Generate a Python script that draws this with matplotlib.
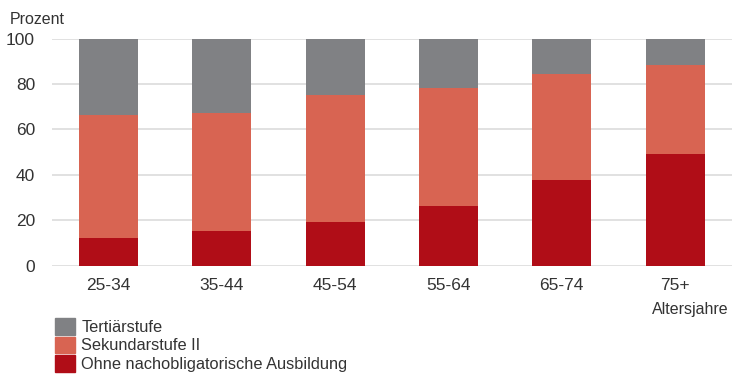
import numpy as np
import matplotlib
matplotlib.use("Agg")
import matplotlib.pyplot as plt
from matplotlib.patches import Patch

# Bildungsstand nach Altersgruppe, in Prozent
altersgruppen = ["25-34", "35-44", "45-54", "55-64", "65-74", "75+"]
ohne_nachobligatorisch = [12.2, 15.1, 19.2, 26.4, 37.6, 49.0]
sekundarstufe_2 = [54.0, 52.1, 55.8, 51.9, 46.9, 39.2]
tertiaerstufe = [33.8, 32.8, 25.0, 21.7, 15.5, 11.8]

col_tert = "#808184"
col_sek = "#d86452"
col_ohne = "#b00d17"
txt_col = "#333333"

plt.rcParams["font.family"] = ["Liberation Sans", "DejaVu Sans"]

fig = plt.figure(figsize=(7.4, 3.75), dpi=100)
ax = fig.add_axes([0.0699, 0.2915, 0.919, 0.6058])

x = np.arange(len(altersgruppen))
w = 0.52
ohne = np.array(ohne_nachobligatorisch)
sek = np.array(sekundarstufe_2)
tert = np.array(tertiaerstufe)

ax.bar(x, ohne, w, color=col_ohne, zorder=3)
ax.bar(x, sek, w, bottom=ohne, color=col_sek, zorder=3)
ax.bar(x, tert, w, bottom=ohne + sek, color=col_tert, zorder=3)

ax.set_xlim(-0.5, len(altersgruppen) - 0.5)
ax.set_ylim(0, 100)
ax.set_yticks([0, 20, 40, 60, 80, 100])
ax.set_xticks(x)
ax.set_xticklabels(altersgruppen)
ax.yaxis.grid(True, color="#dcdcdc", linewidth=1.2, zorder=0)
ax.set_axisbelow(True)
for s in ax.spines.values():
    s.set_visible(False)
ax.tick_params(axis="both", length=0, labelsize=12.5, colors=txt_col)
ax.tick_params(axis="y", pad=12)
ax.tick_params(axis="x", pad=9)

fig.text(10 / 740, 1 - 24 / 375, "Prozent", fontsize=11.5, color=txt_col,
         ha="left", va="baseline")
fig.text(729 / 740, 1 - 314 / 375, "Altersjahre", fontsize=11.5, color=txt_col,
         ha="right", va="baseline")

handles = [Patch(color=col_tert), Patch(color=col_sek), Patch(color=col_ohne)]
labels = ["Tertiärstufe", "Sekundarstufe II", "Ohne nachobligatorische Ausbildung"]
fig.legend(handles, labels, loc="upper left", bbox_to_anchor=(55 / 740, 1 - 318 / 375),
           frameon=False, fontsize=11.8, labelcolor=txt_col,
           handlelength=1.2, handleheight=1.2, handletextpad=0.4,
           labelspacing=0.1, borderaxespad=0, borderpad=0)

fig.savefig("out.png", dpi=100)
